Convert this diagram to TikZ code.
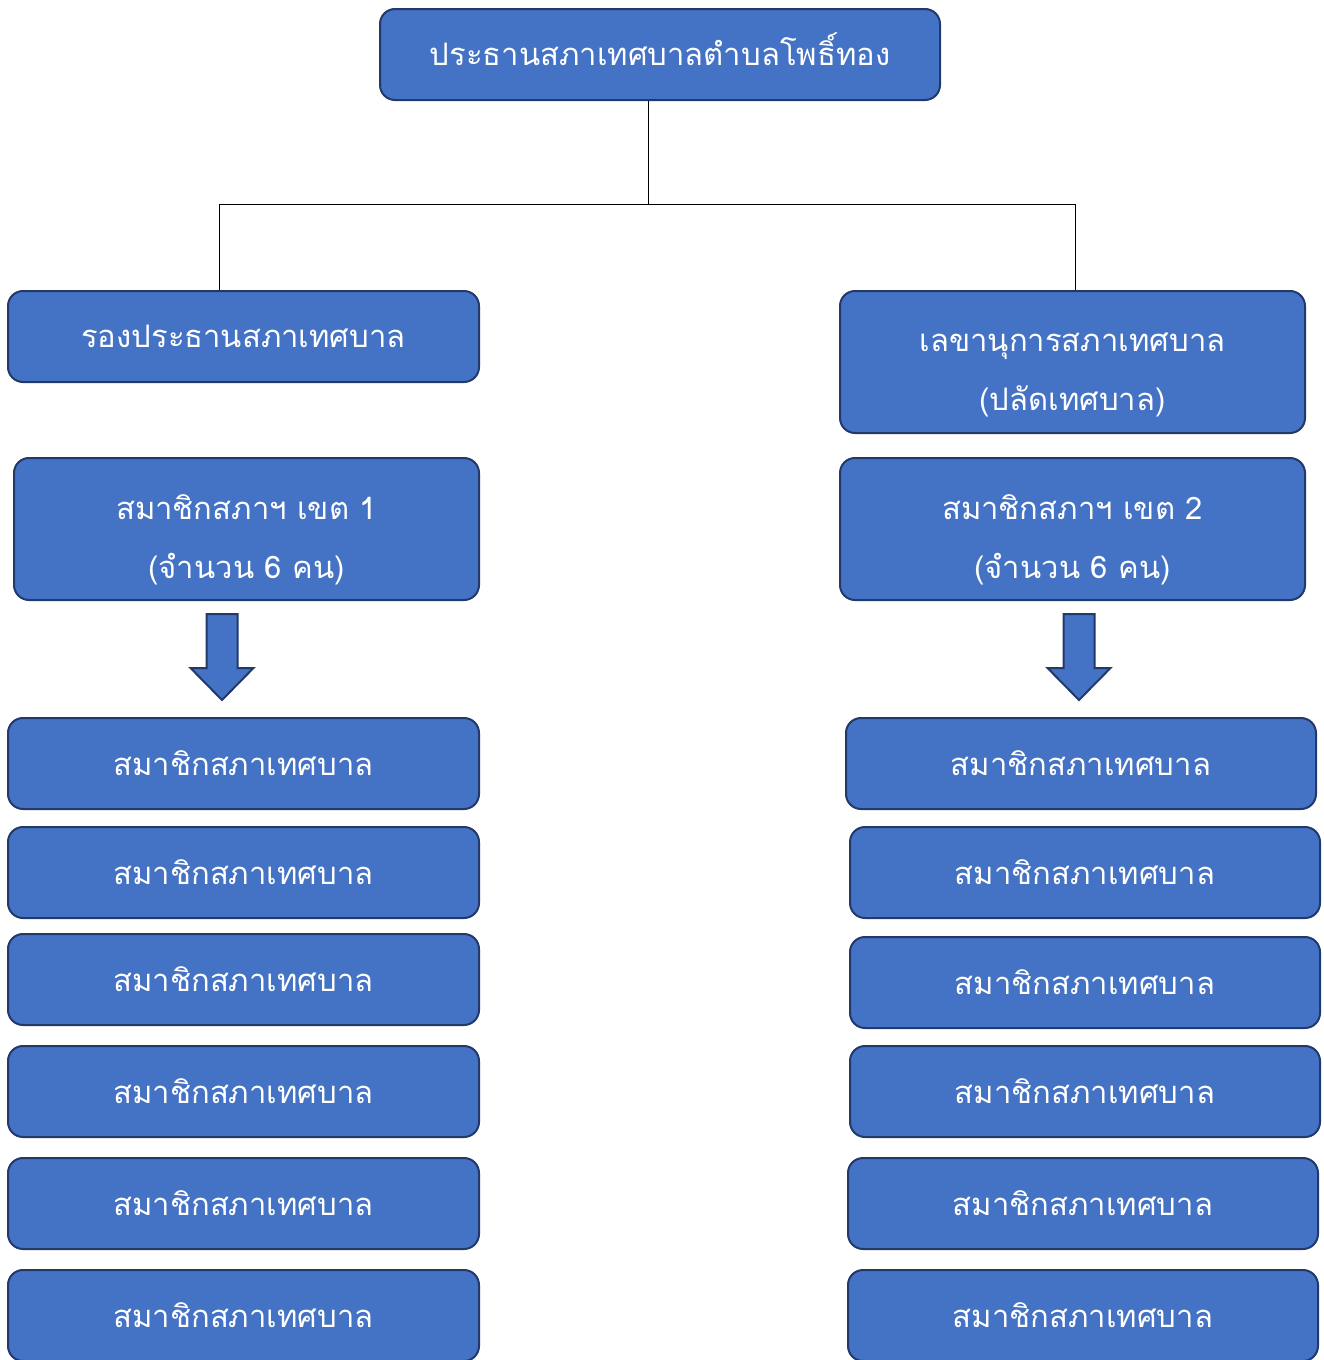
\documentclass[tikz,border=0pt]{standalone}
\usepackage{fontspec}
\newfontfamily\thaifont[Script=Thai]{Loma}
\definecolor{boxfill}{HTML}{4472C4}
\definecolor{boxline}{HTML}{22396A}
\tikzset{
    unit/.style={rectangle, rounded corners=15pt, draw=boxline, line width=2pt,
        fill=boxfill, text=white, align=center,
        font=\thaifont\fontsize{31}{59}\selectfont},
    blockarr/.style={draw=boxline, line width=2pt, fill=boxfill, line join=miter}
}
\newcommand{\downarr}[1]{
    \draw[blockarr] (#1) ++(-15.5,0) -- ++(0,54) -- ++(-16,0) -- ++(31.5,32)
        -- ++(31.5,-32) -- ++(-16,0) -- ++(0,-54) -- cycle;
}
\newcommand{\lift}{\rule{0pt}{47pt}}
\begin{document}
\begin{tikzpicture}[x=1pt, y=-1pt]
    \useasboundingbox (0,0) rectangle (1323,1360);
    \node[unit, minimum width=560, minimum height=91, text height=29pt, text depth=8pt] (top) at (660,54.5)
        {ประธานสภาเทศบาลตำบลโพธิ์ทอง};
    \node[unit, minimum width=471, minimum height=91] (vice) at (243.5,336.5)
        {รองประธานสภาเทศบาล};
    \node[unit, minimum width=465, minimum height=142] (sec) at (1072.5,362)
        {\rule{0pt}{44pt}เลขานุการสภาเทศบาล\\(ปลัดเทศบาล)};
    \node[unit, minimum width=465, minimum height=142] (zone-L) at (246.5,529)
        {\lift สมาชิกสภาฯ เขต 1\\(จำนวน 6 คน)};
    \node[unit, minimum width=465, minimum height=142] (zone-R) at (1072.5,529)
        {\lift สมาชิกสภาฯ เขต 2\\(จำนวน 6 คน)};
    % members
    \foreach[count=\j] \y in {763.5,872.5,979.5,1091.5,1203.5,1315.5} {
        \node[unit, minimum width=471, minimum height=91] (m-\j-L) at (243.5,\y)
            {สมาชิกสภาเทศบาล};
    }
    \foreach[count=\j] \x/\y in {1081/763.5,1085/872.5,1085/982.5,1085/1091.5,1083/1203.5,1083/1315.5} {
        \node[unit, minimum width=470, minimum height=91] (m-\j-R) at (\x,\y)
            {สมาชิกสภาเทศบาล};
    }
    % connectors
    \coordinate (hub) at (648,204);
    \coordinate (j-L) at (219,204);
    \coordinate (j-R) at (1075,204);
    \draw[line width=1pt] (top.south -| hub) -- (hub);
    \draw[line width=1pt] (vice.north -| j-L) -- (j-L) -- (j-R) -- (sec.north -| j-R);
    \coordinate (a-L) at (222,614);
    \coordinate (a-R) at (1079,614);
    \downarr{a-L}
    \downarr{a-R}
\end{tikzpicture}
\end{document}
